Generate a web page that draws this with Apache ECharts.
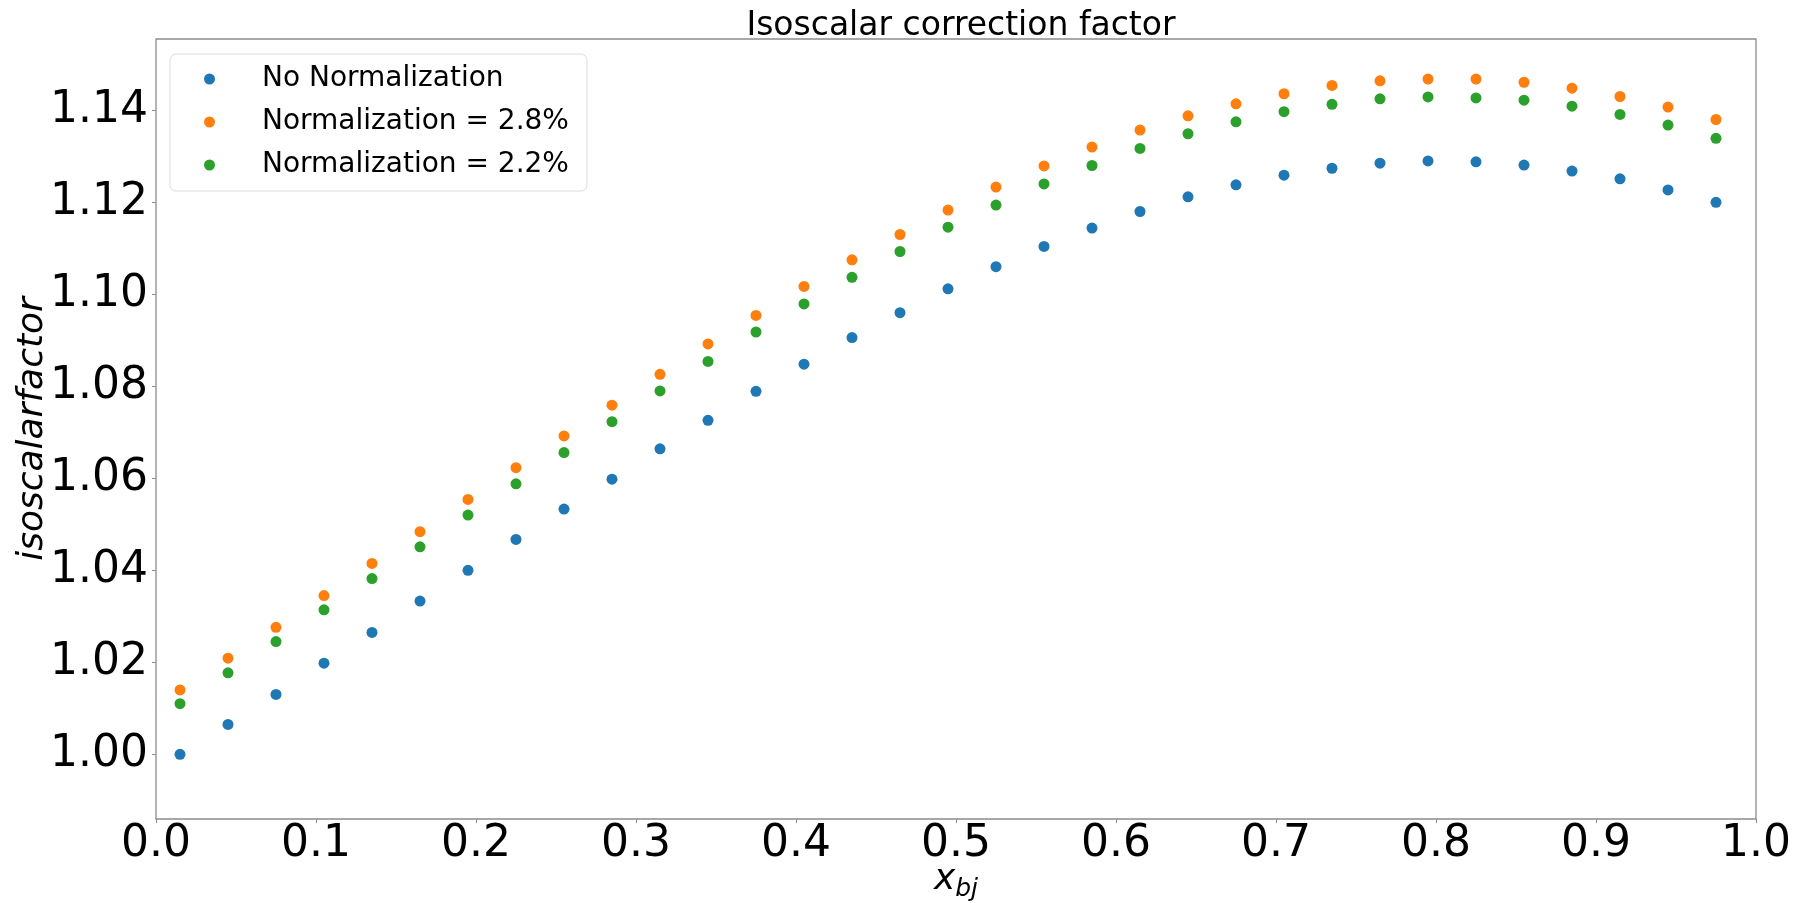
<!DOCTYPE html>
<html>
<head>
<meta charset="utf-8">
<title>Isoscalar correction factor</title>
<script src="https://cdn.jsdelivr.net/npm/echarts@6/dist/echarts.min.js"></script>
<style>
  html, body { margin: 0; padding: 0; background: #ffffff; overflow: hidden; }
  #chart { width: 1802px; height: 903px; }
</style>
</head>
<body>
<div id="chart"></div>
<script>
// Bjorken-x bin centres
const xBj = [0.015, 0.045, 0.075, 0.105, 0.135, 0.165, 0.195, 0.225, 0.255, 0.285, 0.315,
             0.345, 0.375, 0.405, 0.435, 0.465, 0.495, 0.525, 0.555, 0.585, 0.615, 0.645,
             0.675, 0.705, 0.735, 0.765, 0.795, 0.825, 0.855, 0.885, 0.915, 0.945, 0.975];

// Isoscalar correction factor per bin
const noNorm = [1.0000, 1.0065, 1.0130, 1.0198, 1.0265, 1.0333, 1.0400, 1.0467, 1.0533, 1.0598, 1.0664,
                1.0726, 1.0789, 1.0848, 1.0906, 1.0960, 1.1012, 1.1060, 1.1104, 1.1144, 1.1180, 1.1212,
                1.1238, 1.1259, 1.1274, 1.1285, 1.1290, 1.1288, 1.1281, 1.1268, 1.1251, 1.1227, 1.1200];
const norm28 = [1.0140, 1.0209, 1.0276, 1.0345, 1.0415, 1.0484, 1.0554, 1.0623, 1.0692, 1.0759, 1.0826,
                1.0892, 1.0954, 1.1017, 1.1075, 1.1130, 1.1183, 1.1233, 1.1279, 1.1320, 1.1357, 1.1388,
                1.1414, 1.1436, 1.1454, 1.1464, 1.1468, 1.1468, 1.1461, 1.1448, 1.1430, 1.1407, 1.1380];
const norm22 = [1.0110, 1.0177, 1.0245, 1.0314, 1.0382, 1.0451, 1.0520, 1.0588, 1.0656, 1.0723, 1.0790,
                1.0854, 1.0918, 1.0979, 1.1037, 1.1093, 1.1146, 1.1194, 1.1240, 1.1280, 1.1317, 1.1349,
                1.1375, 1.1397, 1.1413, 1.1425, 1.1429, 1.1427, 1.1422, 1.1409, 1.1391, 1.1368, 1.1339];

const seriesNames = ['No Normalization', 'Normalization = 2.8%', 'Normalization = 2.2%'];
const seriesColors = ['#1f77b4', '#ff7f0e', '#2ca02c'];
const yTicks = [1.00, 1.02, 1.04, 1.06, 1.08, 1.10, 1.12, 1.14];

const FONT = 'DejaVu Sans';

function pairs(xs, ys) {
  return xs.map((x, i) => [x, ys[i]]);
}

const chart = echarts.init(document.getElementById('chart'), null, { renderer: 'canvas' });

chart.setOption({
  animation: false,
  backgroundColor: '#ffffff',
  title: {
    text: 'Isoscalar correction factor',
    left: 956,
    textAlign: 'center',
    top: 5,
    textStyle: { fontFamily: FONT, fontSize: 33, fontWeight: 'normal', color: '#000' }
  },
  legend: {
    orient: 'vertical',
    left: 170,
    top: 54,
    padding: [9, 18, 10, 34],
    itemGap: 11,
    itemWidth: 11,
    itemHeight: 11,
    icon: 'circle',
    data: seriesNames,
    textStyle: { fontFamily: FONT, fontSize: 28, lineHeight: 32, color: '#000', padding: [0, 0, 0, 42] },
    backgroundColor: 'rgba(255,255,255,0.8)',
    borderColor: '#dcdcdc',
    borderWidth: 1,
    borderRadius: 6
  },
  grid: {
    left: 156,
    top: 39,
    right: 46,
    bottom: 84,
    show: true,
    borderColor: '#8c8c8c',
    borderWidth: 1.3,
    backgroundColor: 'transparent',
    containLabel: false,
    outerBoundsMode: 'none'
  },
  xAxis: {
    type: 'value',
    min: 0,
    max: 1,
    interval: 0.1,
    name: '{a|x}{b|bj}',
    nameLocation: 'middle',
    nameGap: 41,
    nameMoveOverlap: false,
    nameTextStyle: {
      rich: {
        a: { fontFamily: FONT, fontStyle: 'italic', fontSize: 36, color: '#000', lineHeight: 40 },
        b: { fontFamily: FONT, fontStyle: 'italic', fontSize: 25, color: '#000', lineHeight: 40, padding: [18, 0, 0, 0] }
      }
    },
    axisLine: { show: false },
    axisTick: { show: true, inside: false, length: 4, lineStyle: { color: '#8c8c8c', width: 1 } },
    splitLine: { show: false },
    axisLabel: {
      margin: 4,
      fontFamily: FONT,
      fontSize: 44,
      color: '#000',
      formatter: v => v.toFixed(1)
    }
  },
  yAxis: {
    type: 'value',
    min: 0.98593,
    max: 1.15550,
    name: 'isoscalarfactor',
    nameLocation: 'middle',
    nameRotate: 90,
    nameGap: 105,
    nameMoveOverlap: false,
    nameTextStyle: { fontFamily: FONT, fontStyle: 'italic', fontSize: 36, color: '#000' },
    axisLine: { show: false },
    axisTick: { show: true, inside: false, length: 4, customValues: yTicks, lineStyle: { color: '#8c8c8c', width: 1 } },
    splitLine: { show: false },
    axisLabel: {
      margin: 8,
      fontFamily: FONT,
      fontSize: 44,
      color: '#000',
      customValues: yTicks,
      formatter: v => v.toFixed(2)
    }
  },
  series: [noNorm, norm28, norm22].map((ys, k) => ({
    name: seriesNames[k],
    type: 'scatter',
    symbol: 'circle',
    symbolSize: 11,
    itemStyle: { color: seriesColors[k], opacity: 1 },
    data: pairs(xBj, ys)
  }))
});
</script>
</body>
</html>
